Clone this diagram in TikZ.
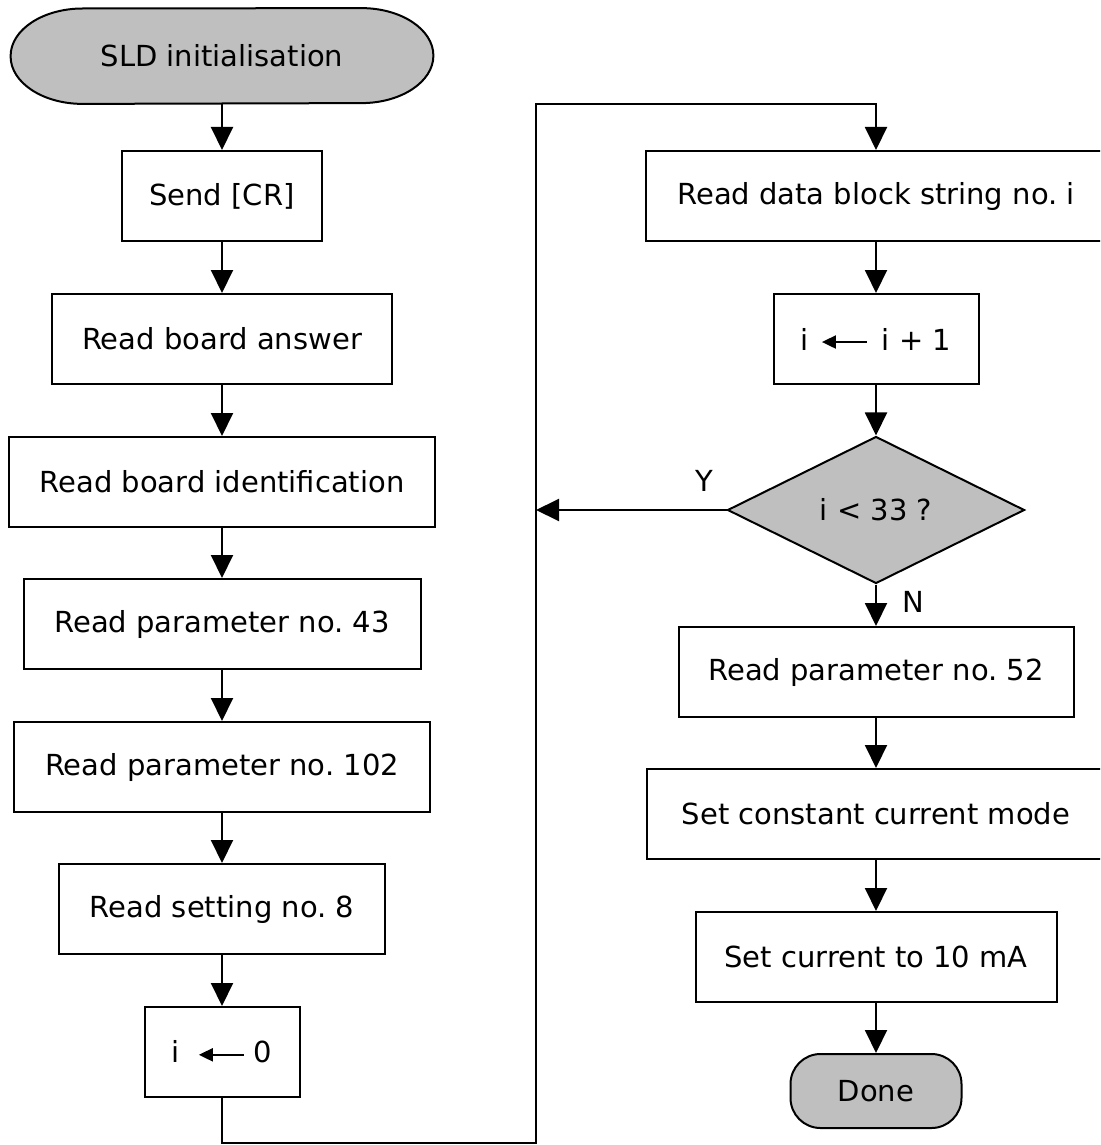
\documentclass[tikz,border=0pt]{standalone}
\usepackage{fontspec}
\setmainfont{DejaVu Sans}
\usetikzlibrary{shapes.geometric,arrows.meta,backgrounds}
\definecolor{termgray}{RGB}{191,191,191}
\frenchspacing

% small assignment arrow used inside the counter boxes
\newcommand{\getsarrow}{\tikz[baseline=-4pt]\draw[line width=1pt,-{Triangle[length=7pt,width=6.5pt]}] (22.5pt,0)--(0,0);}

\begin{document}
\begin{tikzpicture}[x=0.5pt,y=-0.5pt,
  every node/.style={font=\fontsize{14.5pt}{17pt}\selectfont},
  stepbox/.style={draw, line width=1pt, fill=white, inner sep=0pt,
                  minimum height=45pt, align=center},
  decision/.style={diamond, draw, line width=1pt, fill=termgray, aspect=2,
                   inner sep=0pt, minimum width=148.5pt, minimum height=73.5pt},
  stopbox/.style={draw, line width=1pt, fill=termgray, rounded corners=15pt,
                  inner sep=0pt, minimum width=85.5pt, minimum height=37pt},
  flow/.style={line width=1pt, -{Triangle[length=11.5pt,width=11pt]}}]

\useasboundingbox (0,0) rectangle (1100,1145);
\clip (0,0) rectangle (1100,1145);

% left column
\node[inner sep=0pt, minimum width=211pt, minimum height=47.5pt] (start) at (222,56) {SLD initialisation};
\begin{scope}[on background layer]
  \filldraw[fill=termgray, line width=1pt, line join=round]
    (start.west)
    arc[start angle=180, end angle=90, x radius=36pt, y radius=23.75pt]
    -- ([xshift=-36pt]start.north east)
    arc[start angle=90, end angle=-90, x radius=36pt, y radius=23.75pt]
    -- ([xshift=36pt]start.south west)
    arc[start angle=270, end angle=180, x radius=36pt, y radius=23.75pt]
    -- cycle;
\end{scope}

\node[stepbox, minimum width=100pt]   (send)  at (222,196)  {Send [CR]};
\node[stepbox, minimum width=170pt]   (ans)   at (222,339)  {Read board answer};
\node[stepbox, minimum width=213pt]   (ident) at (222,482)  {Read board identification};
\node[stepbox, minimum width=198.5pt] (p43)   at (222,624)  {Read parameter no. 43};
\node[stepbox, minimum width=208pt]   (p102)  at (222,767)  {Read parameter no. 102};
\node[stepbox, minimum width=163pt]   (s8)    at (222,909)  {Read setting no. 8};
\node[stepbox, minimum width=77.5pt]  (i0)    at (222,1052) {i\hspace{9pt}\getsarrow\hspace{4.5pt}0};

% right column
\node[stepbox, minimum width=230pt]   (rdb)   at (876,196)  {Read data block string no. i};
\node[stepbox, minimum width=102.5pt] (inc)   at (876,339)  {i\hspace{6pt}\getsarrow\hspace{7pt}i + 1};
\node[decision]                       (dec)   at (876,510)  {i < 33 ?};
\node[stepbox, minimum width=197.5pt] (p52)   at (876,672)  {Read parameter no. 52};
\node[stepbox, minimum width=229pt]   (ccm)   at (876,814)  {Set constant current mode};
\node[stepbox, minimum width=180.5pt] (cur)   at (876,957)  {Set current to 10 mA};
\node[stopbox]                        (done)  at (876,1091) {Done};

% branch labels
\node (ylab) at (704,481) {Y};
\node (nlab) at (913,602) {N};

% main flow
\draw[flow] (start) -- (send);
\draw[flow] (send) -- (ans);
\draw[flow] (ans) -- (ident);
\draw[flow] (ident) -- (p43);
\draw[flow] (p43) -- (p102);
\draw[flow] (p102) -- (s8);
\draw[flow] (s8) -- (i0);

% jump to the read loop
\coordinate (lowturn) at (222,1143);
\coordinate (loopcol) at (536,104);
\draw[flow] (i0.south) -- (lowturn) -| (loopcol) -| (rdb.north);

\draw[flow] (rdb) -- (inc);
\draw[flow] (inc) -- (dec);
\coordinate (yes) at (536,510);
\draw[flow] (dec.west) -- (yes);
\draw[flow] (dec) -- (p52);
\draw[flow] (p52) -- (ccm);
\draw[flow] (ccm) -- (cur);
\draw[flow] (cur) -- (done);

\end{tikzpicture}
\end{document}
